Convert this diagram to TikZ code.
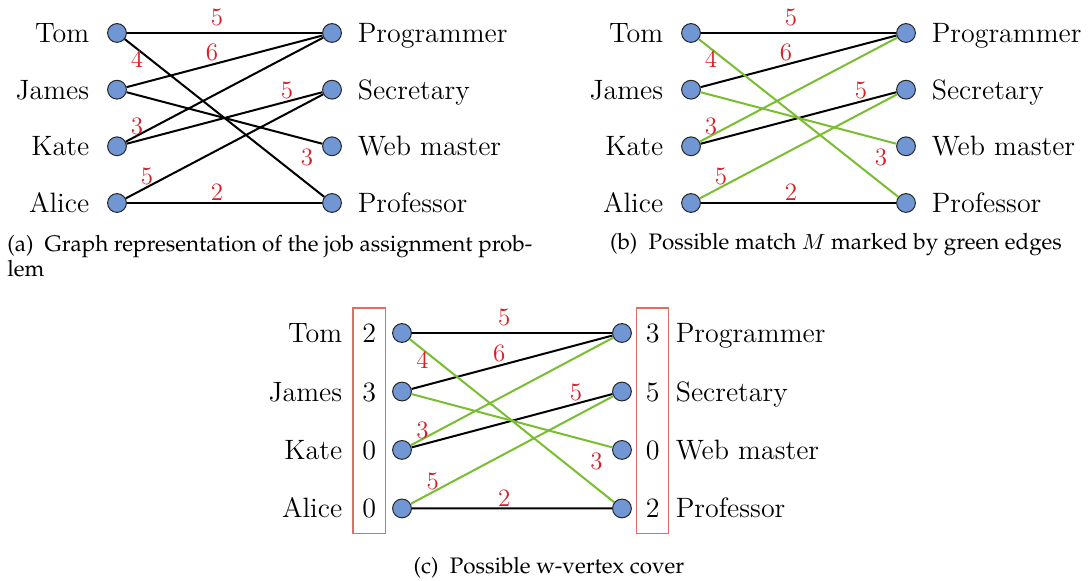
\documentclass[tikz,border=0pt]{standalone}
\usetikzlibrary{positioning,fit}
\definecolor{vtxblue}{RGB}{112,150,212}
\definecolor{wtred}{RGB}{214,30,36}
\definecolor{mgreen}{RGB}{120,190,48}
\definecolor{boxred}{RGB}{222,110,100}
\newcommand\capfont{\fontencoding{OT1}\fontfamily{ppl}\fontsize{11.2}{12.2}\selectfont}

\begin{document}
\begin{tikzpicture}
  [
    x = 0.5pt, y = -0.5pt,
    vtx/.style   = {circle, draw=black!85, fill=vtxblue, line width=0.5pt,
                    minimum size=9.4pt, inner sep=0pt},
    lbl/.style   = {font=\fontsize{14}{16}\selectfont, inner sep=0pt,
                    text height=9.5pt, text depth=0pt},
    wt/.style    = {font=\fontsize{12.5}{14}\selectfont, text=wtred, inner sep=0pt,
                    text height=8pt, text depth=0pt},
    link/.style  = {draw=black, line width=1pt},
    cover/.style = {draw=boxred, line width=0.6pt, inner xsep=4.5pt, inner ysep=7.5pt},
    capt/.style  = {font=\capfont, inner sep=0pt, align=left}
  ]
  \useasboundingbox (0,0) rectangle (1090,581);

  \foreach \p/\ox/\oy/\sx/\sy/\gl/\gr/\mc in
    {a/117/33/1/1/8.75/7.75/black,
     b/691/33/1/1/8.75/7.75/mgreen,
     c/402/333/1.023/1.032/24.75/21.75/mgreen}
  {
    \begin{scope}[shift={(\ox,\oy)}, xscale=\sx, yscale=\sy,
                  picked/.style={link, draw=\mc}]
      % workers
      \node[vtx] (\p-tom)   at (0,0)     {};
      \node[vtx] (\p-james) at (0,56.7)  {};
      \node[vtx] (\p-kate)  at (0,113.3) {};
      \node[vtx] (\p-alice) at (0,170)   {};
      % jobs
      \node[vtx] (\p-prog)  at (215,0)     {};
      \node[vtx] (\p-sec)   at (215,56.7)  {};
      \node[vtx] (\p-web)   at (215,113.3) {};
      \node[vtx] (\p-prof)  at (215,170)   {};

      \node[lbl, left=\gl pt of \p-tom]   (\p-ntom)   {Tom};
      \node[lbl, left=\gl pt of \p-james] (\p-njames) {James};
      \node[lbl, left=\gl pt of \p-kate]  (\p-nkate)  {Kate};
      \node[lbl, left=\gl pt of \p-alice] (\p-nalice) {Alice};
      \node[lbl, right=\gr pt of \p-prog] (\p-nprog)  {Programmer};
      \node[lbl, right=\gr pt of \p-sec]  (\p-nsec)   {Secretary};
      \node[lbl, right=\gr pt of \p-web]  (\p-nweb)   {Web master};
      \node[lbl, right=\gr pt of \p-prof] (\p-nprof)  {Professor};

      \draw[link]   (\p-tom)   -- (\p-prog);
      \draw[link]   (\p-james) -- (\p-prog);
      \draw[link]   (\p-kate)  -- (\p-sec);
      \draw[link]   (\p-alice) -- (\p-prof);
      \draw[picked] (\p-tom)   -- (\p-prof);
      \draw[picked] (\p-james) -- (\p-web);
      \draw[picked] (\p-kate)  -- (\p-prog);
      \draw[picked] (\p-alice) -- (\p-sec);

      % weights
      \node[wt] (\p-w1) at (100,-15) {5};
      \node[wt] (\p-w2) at (95,20)   {6};
      \node[wt] (\p-w3) at (20,27)   {4};
      \node[wt] (\p-w4) at (170,58)  {5};
      \node[wt] (\p-w5) at (20,94)   {3};
      \node[wt] (\p-w6) at (190,125) {3};
      \node[wt] (\p-w7) at (30,144)  {5};
      \node[wt] (\p-w8) at (100,160) {2};
    \end{scope}
  }

  % w-vertex cover values
  \node[lbl, left=7.75pt of c-tom]   (c-vtom)   {2};
  \node[lbl, left=7.75pt of c-james] (c-vjames) {3};
  \node[lbl, left=7.75pt of c-kate]  (c-vkate)  {0};
  \node[lbl, left=7.75pt of c-alice] (c-valice) {0};
  \node[lbl, right=6.75pt of c-prog] (c-vprog)  {3};
  \node[lbl, right=6.75pt of c-sec]  (c-vsec)   {5};
  \node[lbl, right=6.75pt of c-web]  (c-vweb)   {0};
  \node[lbl, right=6.75pt of c-prof] (c-vprof)  {2};
  \node[cover, fit=(c-vtom)(c-valice)] (c-lcover) {};
  \node[cover, fit=(c-vprog)(c-vprof)] (c-rcover) {};

  \node[capt, anchor=north west] (capa) at (7,235)
    {(a)\enspace Graph representation of the job assignment prob-\\lem};
  \node[capt, anchor=base] (capb) at (836,250)
    {(b)\enspace Possible match $M$ marked by green edges};
  \node[capt, anchor=base] (capc) at (549,573)
    {(c)\enspace Possible w-vertex cover};
\end{tikzpicture}
\end{document}
